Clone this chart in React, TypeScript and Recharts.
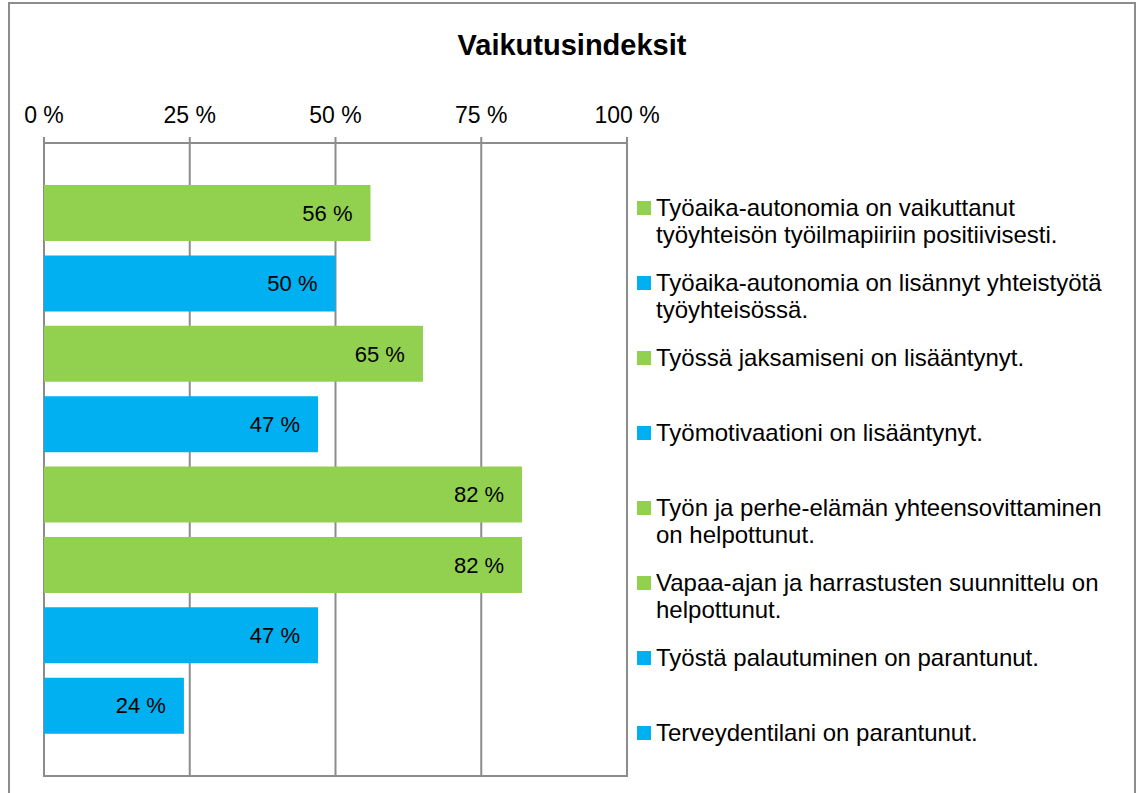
import React from "react";
import { BarChart, Bar, XAxis, YAxis, CartesianGrid, Cell, LabelList } from "recharts";

const title = "Vaikutusindeksit";
const categories = [
  "Työaika-autonomia on vaikuttanut\ntyöyhteisön työilmapiiriin positiivisesti.",
  "Työaika-autonomia on lisännyt yhteistyötä\ntyöyhteisössä.",
  "Työssä jaksamiseni on lisääntynyt.",
  "Työmotivaationi on lisääntynyt.",
  "Työn ja perhe-elämän yhteensovittaminen\non helpottunut.",
  "Vapaa-ajan ja harrastusten suunnittelu on\nhelpottunut.",
  "Työstä palautuminen on parantunut.",
  "Terveydentilani on parantunut.",
];
const values = [0.56, 0.5, 0.65, 0.47, 0.82, 0.82, 0.47, 0.24];
const seriesColors = ["#92D050", "#00B0F0", "#92D050", "#00B0F0", "#92D050", "#92D050", "#00B0F0", "#00B0F0"];
const ticks = [0, 0.25, 0.5, 0.75, 1];

const data = categories.map((c, i) => ({ name: c, value: values[i] }));
const pct = (v: number) => `${Math.round(v * 100)} %`;

const FONT = "Arial, 'Liberation Sans', sans-serif";
const GRID = "#8c8c8c";

export default function App() {
  const W = 1124;
  const H = 789;
  const chartH = 785;
  const m = { top: 99, right: 507, bottom: 13, left: 34 };
  const axisH = 40;
  const plotTop = m.top + axisH;
  const plotBottom = chartH - m.bottom;
  return (
    <div
      style={{
        position: "absolute",
        left: 8,
        top: 2,
        width: W,
        height: H,
        borderTop: `2px solid ${GRID}`,
        borderLeft: `2px solid ${GRID}`,
        borderRight: `2px solid ${GRID}`,
        background: "#fff",
        fontFamily: FONT,
        overflow: "hidden",
      }}
    >
      <div
        style={{
          position: "absolute",
          left: 0,
          width: W,
          top: 25,
          textAlign: "center",
          fontWeight: "bold",
          fontSize: 29,
          color: "#000",
          fontFamily: FONT,
        }}
      >
        {title}
      </div>
      <BarChart
        width={W}
        height={chartH}
        data={data}
        layout="vertical"
        margin={m}
        barCategoryGap="10%"
      >
        <CartesianGrid
          horizontal={true}
          vertical={true}
          horizontalPoints={[plotBottom]}
          stroke={GRID}
          strokeWidth={2}
        />
        <XAxis
          type="number"
          orientation="top"
          domain={[0, 1]}
          ticks={ticks}
          tickFormatter={pct}
          height={axisH}
          axisLine={{ stroke: GRID, strokeWidth: 2 }}
          tickLine={{ stroke: GRID, strokeWidth: 2 }}
          tickSize={6}
          tickMargin={14}
          tick={{ fill: "#000", fontSize: 23, fontFamily: FONT }}
          interval={0}
        />
        <YAxis type="category" dataKey="name" hide width={0} padding={{ top: 35, bottom: 35 }} />
        <Bar dataKey="value" isAnimationActive={false}>
          {data.map((d, i) => (
            <Cell key={i} fill={seriesColors[i]} />
          ))}
          <LabelList
            dataKey="value"
            position="insideRight"
            offset={18}
            formatter={(v: any) => pct(Number(v))}
            fill="#000"
            style={{ fontSize: 22, fontFamily: FONT }}
          />
        </Bar>
      </BarChart>
      <div
        style={{
          position: "absolute",
          left: m.left - 1,
          top: plotTop,
          width: W - m.left - m.right + 2,
          height: plotBottom - plotTop - 1,
          borderBottom: `2px solid ${GRID}`,
          background: "transparent",
          pointerEvents: "none",
          zIndex: 5,
        }}
      />
      {categories.map((c, i) => (
        <div
          key={i}
          style={{
            position: "absolute",
            left: 627,
            top: 190 + i * 75,
            width: 495,
            display: "flex",
            alignItems: "flex-start",
            fontSize: 24,
            lineHeight: "27px",
            color: "#000",
            fontFamily: FONT,
          }}
        >
          <span
            style={{
              display: "inline-block",
              width: 14,
              height: 14,
              background: seriesColors[i],
              marginTop: 7,
              marginRight: 5,
              flex: "none",
            }}
          />
          <span style={{ whiteSpace: "pre-line" }}>{c}</span>
        </div>
      ))}
    </div>
  );
}
